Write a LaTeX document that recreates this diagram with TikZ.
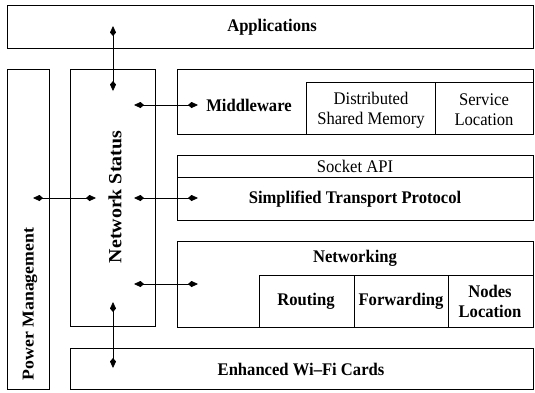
\documentclass[tikz,border=0pt]{standalone}
\usepackage{fontspec}
\usepackage{graphicx}
\setmainfont{Liberation Serif}
\usetikzlibrary{arrows.meta}
\newcommand{\vs}[1]{\scalebox{1}[1.07]{#1}}
\tikzset{
  layerbox/.style={draw=black, line width=0.9pt},
  lbl/.style={inner sep=0pt, font=\fontsize{16.6}{20}\selectfont, align=center},
  blbl/.style={lbl, font=\fontsize{16.6}{20}\selectfont\bfseries},
  link/.style={line width=0.8pt, {Kite[length=10pt,width=6pt,inset=3.5pt]}-{Kite[length=10pt,width=6pt,inset=3.5pt]}}
}
\begin{document}
\begin{tikzpicture}[x=1pt,y=-1pt]
\useasboundingbox (0,0) rectangle (535,392);
% boxes
\draw[layerbox] (7,5) rectangle (533,48);
\draw[layerbox] (7,69) rectangle (49,389);
\draw[layerbox] (70,69) rectangle (155,326);
\draw[layerbox] (177,69) rectangle (533,134);
\draw[layerbox] (306,82) rectangle (435,134);
\draw[layerbox] (435,82) rectangle (533,134);
\draw[layerbox] (177,155) rectangle (533,220);
\draw[layerbox] (177,177) -- (533,177);
\draw[layerbox] (177,241) rectangle (533,327);
\draw[layerbox] (259,275) rectangle (533,327);
\draw[layerbox] (354,275) -- (354,327);
\draw[layerbox] (448,275) -- (448,327);
\draw[layerbox] (70,348) rectangle (533,389);
% labels
\node[blbl] (app) at (272,27) {\vs{Applications}};
\node[blbl] (pm) at (30,304) {\rotatebox{90}{\scalebox{1.07}[1]{Power Management}}};
\node[blbl, font=\fontsize{18.6}{22}\selectfont\bfseries] (ns) at (115,197) {\rotatebox{90}{\scalebox{1.07}[1]{Network Status}}};
\node[blbl] (mw) at (249,105) {\vs{Middleware}};
\node[lbl] (dsm) at (371,110) {\vs{Distributed}\\\vs{Shared Memory}};
\node[lbl] (sl) at (484,110) {\vs{Service}\\\vs{Location}};
\node[lbl] (sock) at (355,166) {\vs{Socket API}};
\node[blbl] (stp) at (355,199) {\vs{Simplified Transport Protocol}};
\node[blbl] (net) at (355,258) {\vs{Networking}};
\node[blbl] (rt) at (306,301) {\vs{Routing}};
\node[blbl] (fw) at (401,301) {\vs{Forwarding}};
\node[blbl] (nl) at (490,301) {\vs{Nodes}\\\vs{Location}};
\node[blbl] (wifi) at (301,369) {\vs{Enhanced Wi\textendash Fi Cards}};
% connector end points
\coordinate (v1a) at (113,26);
\coordinate (v1b) at (113,91);
\coordinate (v2a) at (113,302);
\coordinate (v2b) at (113,368);
\coordinate (h1a) at (134,105);
\coordinate (h1b) at (198,105);
\coordinate (h2a) at (33,198);
\coordinate (h2b) at (96,198);
\coordinate (h3a) at (134,198);
\coordinate (h3b) at (198,198);
\coordinate (h4a) at (134,284);
\coordinate (h4b) at (198,284);
% connectors
\draw[link] (v1a) -- (v1b);
\draw[link] (v2a) -- (v2b);
\draw[link] (h1a) -- (h1b);
\draw[link] (h2a) -- (h2b);
\draw[link] (h3a) -- (h3b);
\draw[link] (h4a) -- (h4b);
\end{tikzpicture}
\end{document}
